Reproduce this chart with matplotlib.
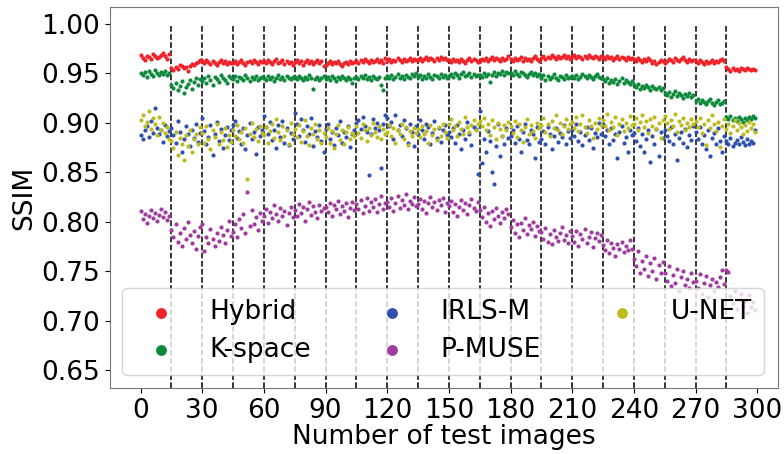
import numpy as np
import matplotlib
matplotlib.use("Agg")
import matplotlib.pyplot as plt

# SSIM values (x1000) per test image, 300 images
hybrid = [
 968,965,963,967,966,964,969,967,965,966,968,970,967,964,969,
 955,953,956,954,958,957,955,956,952,957,959,958,960,961,963,
 962,960,963,961,959,962,960,958,961,963,960,962,959,961,960,
 960,962,959,961,963,960,958,961,962,960,963,961,959,962,961,
 962,960,963,961,959,962,964,960,961,963,959,962,960,961,958,
 961,963,960,962,958,961,963,960,962,959,961,963,960,962,957,
 958,960,962,959,961,960,962,959,957,960,961,959,962,960,961,
 962,960,963,961,964,962,960,963,961,962,964,961,963,960,965,
 962,964,961,963,962,965,963,961,964,962,963,965,962,964,963,
 963,965,962,964,966,963,965,964,962,965,963,966,964,965,963,
 963,961,964,962,963,961,964,962,960,963,965,962,964,963,961,
 962,964,963,965,962,964,966,963,965,964,962,965,963,964,967,
 964,962,965,963,964,966,962,965,963,964,962,965,967,964,962,
 965,967,964,966,965,968,966,964,967,965,966,968,965,967,964,
 966,968,965,967,966,964,967,965,968,966,965,967,966,964,967,
 966,964,967,965,966,963,965,967,964,966,965,963,966,964,965,
 964,962,965,963,961,964,962,965,963,960,962,959,961,963,962,
 960,962,964,963,961,965,963,962,964,966,963,961,964,962,963,
 962,960,963,961,959,962,960,961,963,960,962,961,963,964,962,
 956,954,952,955,953,954,952,955,954,953,955,954,953,954,953]

kspace = [
 950,948,951,946,952,949,947,953,950,948,951,949,952,948,950,
 938,935,940,933,937,942,930,936,939,943,934,941,945,938,944,
 942,945,940,947,943,938,946,944,941,948,945,943,940,947,945,
 944,947,942,946,945,943,948,945,942,946,944,947,943,945,946,
 945,943,947,944,946,942,945,948,944,946,943,947,945,944,946,
 946,944,947,945,943,946,944,948,945,934,944,946,943,945,947,
 944,946,943,947,945,942,946,944,947,945,943,946,944,940,945,
 946,944,947,945,948,944,946,943,947,945,944,946,938,933,945,
 947,945,948,944,946,949,945,947,944,948,946,945,949,947,950,
 946,948,944,947,945,949,946,944,948,947,945,949,946,948,945,
 947,949,946,950,948,945,949,951,947,948,950,946,949,947,948,
 948,946,950,947,949,941,948,951,947,950,949,952,948,951,950,
 950,948,952,949,947,951,950,948,946,949,951,948,950,947,949,
 945,948,943,947,944,946,949,945,943,947,946,944,948,945,946,
 947,945,948,944,946,949,947,945,948,946,944,947,949,946,945,
 944,942,945,940,943,941,944,939,942,945,940,943,941,939,942,
 938,936,939,934,937,935,938,936,933,937,935,934,936,933,935,
 930,928,931,926,929,932,927,930,928,925,929,927,930,926,928,
 922,924,920,923,921,919,922,924,920,918,921,923,919,920,922,
 906,904,907,903,905,902,906,904,901,905,903,906,904,907,905]

irlsm = [
 888,884,893,897,886,902,890,915,895,889,893,881,898,887,892,
 895,888,880,902,891,870,884,897,889,876,893,885,899,881,890,
 905,892,878,886,898,867,889,901,882,894,874,888,896,883,893,
 898,902,885,892,879,895,873,888,900,884,891,868,896,887,893,
 907,896,889,901,883,893,874,898,886,902,880,895,877,890,884,
 910,899,887,904,893,881,897,889,905,876,892,886,898,882,870,
 894,899,884,891,877,895,888,902,880,891,886,897,875,889,893,
 900,903,894,906,897,891,847,889,904,895,900,893,854,899,908,
 905,897,901,884,908,893,898,887,903,895,880,899,891,876,897,
 889,903,893,884,899,896,878,890,902,885,895,881,893,898,888,
 891,886,895,880,898,889,873,893,884,901,889,877,896,894,848,
 912,859,884,870,892,882,850,838,876,899,866,887,878,895,885,
 887,893,880,897,884,870,891,899,883,878,893,889,864,896,881,
 884,892,878,896,889,873,887,895,881,890,886,898,879,892,885,
 893,887,899,882,891,877,888,896,883,895,874,890,886,900,889,
 899,887,893,878,895,883,889,864,891,897,880,886,870,893,888,
 890,882,895,876,889,870,884,893,860,887,879,894,866,891,885,
 893,887,882,896,878,889,862,885,891,880,894,875,888,883,897,
 891,884,896,879,888,873,893,866,885,890,878,895,882,870,887,
 882,879,885,876,880,883,878,886,881,877,884,879,882,880,893]

pmuse = [
 811,803,808,799,806,812,804,809,801,807,813,805,810,802,806,
 792,785,798,780,789,776,794,783,800,787,779,791,772,786,795,
 798,770,785,779,793,783,776,789,781,795,787,779,792,801,786,
 790,798,785,803,794,808,789,830,796,812,798,805,792,809,801,
 806,813,799,810,804,817,808,801,814,806,811,797,809,815,805,
 812,806,818,809,815,801,813,820,807,816,810,804,817,811,814,
 815,810,819,806,817,813,821,808,816,811,819,805,814,820,812,
 818,813,822,809,816,824,811,820,815,823,810,818,826,813,819,
 820,815,824,811,819,826,814,822,817,828,813,821,818,825,816,
 818,823,813,821,809,819,825,815,820,812,822,817,824,810,819,
 816,821,810,818,806,815,822,812,819,808,817,823,814,811,820,
 812,805,815,800,809,796,811,803,814,806,799,810,804,813,808,
 795,802,789,798,785,799,792,804,788,797,793,800,786,796,791,
 790,783,794,780,788,778,792,785,781,789,795,782,787,779,791,
 786,780,791,776,788,783,793,779,785,790,775,784,789,781,787,
 777,771,782,768,779,774,765,778,772,780,769,776,771,782,773,
 762,755,770,748,760,752,765,745,758,750,763,742,756,748,759,
 748,740,755,735,746,738,752,730,744,750,736,742,733,748,739,
 740,733,747,727,738,745,724,736,742,730,739,734,744,751,737,
 751,749,725,718,730,712,722,727,715,720,708,726,714,719,711]

unet = [
 903,908,897,901,912,894,905,899,888,906,893,900,890,896,884,
 882,874,891,867,885,879,862,888,876,893,870,884,889,878,896,
 890,880,897,884,873,893,886,899,878,891,883,895,875,888,881,
 893,887,898,884,891,880,895,843,889,900,886,894,882,897,890,
 888,896,880,892,899,885,904,891,883,897,887,893,878,900,889,
 894,886,898,881,892,903,887,877,895,889,899,884,893,880,890,
 886,895,880,892,874,889,898,883,893,878,891,896,884,890,887,
 897,890,885,899,893,882,895,888,900,891,886,897,884,894,889,
 891,898,887,895,880,893,889,899,884,896,877,892,887,895,890,
 894,886,897,889,892,880,898,888,894,883,896,887,899,891,885,
 899,904,893,897,887,901,894,889,906,896,891,898,903,893,899,
 902,897,905,893,899,888,903,896,884,900,894,887,898,893,901,
 897,890,902,886,899,893,881,896,904,889,898,892,885,900,895,
 898,905,891,899,887,902,895,908,893,900,889,897,904,894,899,
 901,895,906,892,899,908,896,890,903,897,885,900,894,905,898,
 903,897,909,893,901,896,906,888,899,904,892,900,895,907,898,
 899,905,893,901,908,896,902,890,904,897,906,894,900,885,903,
 907,900,894,903,897,909,891,902,898,905,893,900,896,904,899,
 902,896,905,890,899,877,903,895,908,899,892,901,875,897,904,
 894,899,890,897,903,893,900,896,889,898,892,901,895,899,891]

labels = ["Hybrid", "K-space", "IRLS-M", "P-MUSE", "U-NET"]
colors = ["#ee2228", "#0f8a3c", "#3050b0", "#a03ca0", "#bcbc20"]
series = [hybrid, kspace, irlsm, pmuse, unet]
boundaries = list(range(15, 300, 15))
xticks = list(range(0, 301, 30))
yticks = [0.65, 0.70, 0.75, 0.80, 0.85, 0.90, 0.95, 1.00]

fig = plt.figure(figsize=(7.84, 4.54), dpi=100)
ax = fig.add_axes([0.140, 0.145, 0.852, 0.840])

x = np.arange(300)
for vals, lab, col in zip(series, labels, colors):
    ax.scatter(x, np.array(vals) / 1000.0, s=9, color=col, label=lab,
               linewidths=0, zorder=3)

ax.set_xlim(-15, 310)
ax.set_ylim(0.632, 1.017)
ax.vlines(boundaries, 0.632, 1.0, colors="black", linestyles="--",
          linewidth=1.1, zorder=2)

ax.set_xticks(xticks)
ax.set_yticks(yticks)
ax.set_yticklabels([f"{v:.2f}" for v in yticks])
ax.tick_params(labelsize=19)
ax.set_xlabel("Number of test images", fontsize=19, labelpad=0)
ax.set_ylabel("SSIM", fontsize=19, labelpad=3)
for sp in ax.spines.values():
    sp.set_color("#777777")

leg = ax.legend(loc="lower left", bbox_to_anchor=(0.019, 0.034, 0.96, 0.225),
                mode="expand", ncol=3, fontsize=19, markerscale=2.6,
                handletextpad=0.85, borderaxespad=0, labelspacing=0.45,
                framealpha=0.8, borderpad=0.45)

fig.savefig("out.png", dpi=100)
